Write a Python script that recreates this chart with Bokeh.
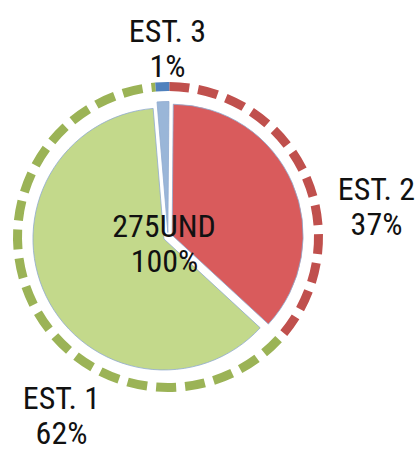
import numpy as np
from bokeh.plotting import figure
from bokeh.models import ColumnDataSource, Range1d
from bokeh.core.properties import value
from bokeh.embed import file_html
from bokeh.resources import INLINE

# ---- data (slices listed clockwise from the top) ----
categories = ["EST. 2", "EST. 1", "EST. 3"]
counts = [101, 170, 4]
unit = "UND"

# ---- styles ----
pie_colors = ["#D95B5C", "#C3D98B", "#9AB6D8"]
ring_colors = ["#C0504D", "#9BB356", "#4F81BD"]
FONT = "Roboto Condensed"
TXT = "#111111"

total = sum(counts)
pcts = [round(c / total * 100) for c in counts]

# geometry (pixels)
start_deg = 0.5      # first slice angle, clockwise from 12 o'clock
R = 131
explode = 4.5
ring_r = 150.5

theta = np.concatenate([[0.0], np.cumsum(counts)]) / total * 360.0 + start_deg
t0, t1 = theta[:-1], theta[1:]
mid = (t0 + t1) / 2.0


def to_rad(d):
    return np.radians(90.0 - d)


src = ColumnDataSource(dict(
    x=explode * np.sin(np.radians(mid)),
    y=explode * np.cos(np.radians(mid)),
    cx=np.zeros(len(counts)),
    cy=np.zeros(len(counts)),
    start=to_rad(t0),
    end=to_rad(t1),
    fill=pie_colors,
    ring=ring_colors,
))

# chart centre sits at (167.5, 236.5) px from the top-left corner
p = figure(width=418, height=452,
           x_range=Range1d(-167.5, 250.5), y_range=Range1d(-215.5, 236.5),
           output_backend="svg", toolbar_location=None,
           x_axis_location=None, y_axis_location=None, min_border=0)
p.grid.visible = False
p.outline_line_color = None
p.background_fill_color = "white"
p.border_fill_color = "white"

# dashed outer ring, one dashed arc per slice
p.arc(x="cx", y="cy", radius=ring_r, start_angle="start", end_angle="end",
      direction="clock", line_color="ring", line_width=9, line_dash="20 9",
      line_cap="butt", source=src)

# exploded pie
p.wedge(x="x", y="y", radius=R, start_angle="start", end_angle="end",
        direction="clock", fill_color="fill", line_color="#8FAACF",
        line_width=0.8, source=src)

# category labels (positions are layout)
label_pos = {"EST. 1": (-106.5, -161.0), "EST. 2": (208.5, 48.0), "EST. 3": (-0.5, 206.5)}
line_gap = 35
lx, ly, lt = [], [], []
for cat, pc in zip(categories, pcts):
    x0, y0 = label_pos[cat]
    lx += [x0, x0]
    ly += [y0, y0 - line_gap]
    lt += [cat, f"{pc}%"]

# centre label
lx += [-4.0, -3.5]
ly += [11.5, 11.5 - line_gap]
lt += [f"{total}{unit}", f"{sum(pcts)}%"]

p.text(x=lx, y=ly, text=lt, text_align="center", text_baseline="alphabetic",
       text_font=value(FONT), text_font_size="32px", text_color=TXT)

open("out.html", "w").write(file_html(p, INLINE))
